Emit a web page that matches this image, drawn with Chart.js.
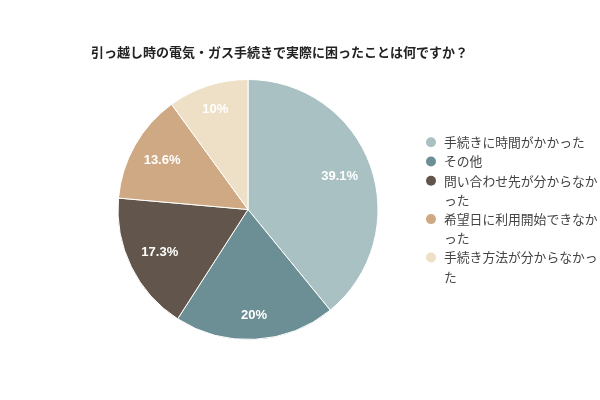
<!DOCTYPE html>
<html>
<head>
<meta charset="utf-8">
<script src="https://cdn.jsdelivr.net/npm/chart.js@4.4.1/dist/chart.umd.min.js"></script>
<style>
  html, body { margin: 0; padding: 0; background: #fff; }
  #wrap { width: 600px; height: 400px; position: relative; }
</style>
</head>
<body>
<div id="wrap"><canvas id="c" width="600" height="400"></canvas></div>
<script>
const titleText = '引っ越し時の電気・ガス手続きで実際に困ったことは何ですか？';
const categories = ['手続きに時間がかかった', 'その他', '問い合わせ先が分からなかった', '希望日に利用開始できなかった', '手続き方法が分からなかった'];
const values = [39.1, 20, 17.3, 13.6, 10];
const valueLabels = ['39.1%', '20%', '17.3%', '13.6%', '10%'];
const colors = ['#a9c1c2', '#6b8f95', '#62564c', '#cfa983', '#ede0c6'];

const JP = '"Noto Sans CJK JP", "Noto Sans", sans-serif';

const titlePlugin = {
  id: 'titleText',
  afterDraw(chart) {
    const ctx = chart.ctx;
    ctx.save();
    ctx.font = 'bold 13px ' + JP;
    ctx.fillStyle = '#222222';
    ctx.textAlign = 'left';
    ctx.textBaseline = 'middle';
    ctx.fillText(titleText, chart.chartArea.left, 52.5);
    ctx.restore();
  }
};

const sliceLabels = {
  id: 'sliceLabels',
  afterDatasetsDraw(chart) {
    const ctx = chart.ctx;
    const meta = chart.getDatasetMeta(0);
    ctx.save();
    ctx.font = 'bold 13px "Liberation Sans", Arial, sans-serif';
    ctx.fillStyle = '#ffffff';
    ctx.textAlign = 'center';
    ctx.textBaseline = 'middle';
    meta.data.forEach((arc, i) => {
      const p = arc.getProps(['x', 'y', 'startAngle', 'endAngle', 'outerRadius'], true);
      const mid = (p.startAngle + p.endAngle) / 2;
      const s = Math.sin(mid);
      const d = p.outerRadius * (0.74 + 0.08 * s * s);
      ctx.fillText(valueLabels[i], p.x + Math.cos(mid) * d, p.y + s * d);
    });
    ctx.restore();
  }
};

const sideLegend = {
  id: 'sideLegend',
  afterDraw(chart) {
    const ctx = chart.ctx;
    const area = chart.chartArea;
    const fontSize = 12.8;
    const lineH = 19.2;
    const maxW = 156;
    const boxX = 431, textX = 444;
    ctx.save();
    ctx.font = fontSize + 'px ' + JP;
    const items = chart.data.labels.map((lab, i) => {
      const lines = [];
      let cur = '';
      for (const ch of lab) {
        if (ctx.measureText(cur + ch).width > maxW && cur) {
          lines.push(cur);
          cur = ch;
        } else cur += ch;
      }
      if (cur) lines.push(cur);
      return { lines, color: chart.data.datasets[0].backgroundColor[i] };
    });
    const total = items.reduce((a, it) => a + it.lines.length, 0);
    const cy = (area.top + area.bottom) / 2;
    let y = cy - (total - 1) / 2 * lineH;
    ctx.textAlign = 'left';
    ctx.textBaseline = 'middle';
    items.forEach(it => {
      ctx.beginPath();
      ctx.arc(boxX, y, 5, 0, Math.PI * 2);
      ctx.fillStyle = it.color;
      ctx.fill();
      ctx.fillStyle = '#444444';
      it.lines.forEach(l => {
        ctx.fillText(l, textX, y);
        y += lineH;
      });
    });
    ctx.restore();
  }
};

new Chart(document.getElementById('c'), {
  type: 'pie',
  data: {
    labels: categories,
    datasets: [{
      data: values,
      backgroundColor: colors,
      borderColor: '#ffffff',
      borderWidth: 1,
      hoverBorderWidth: 1
    }]
  },
  options: {
    responsive: false,
    animation: false,
    layout: { padding: { top: 79, left: 91, right: 195, bottom: 60 } },
    plugins: {
      legend: { display: false },
      tooltip: { enabled: false },
      title: { display: false }
    }
  },
  plugins: [titlePlugin, sliceLabels, sideLegend]
});
</script>
</body>
</html>
